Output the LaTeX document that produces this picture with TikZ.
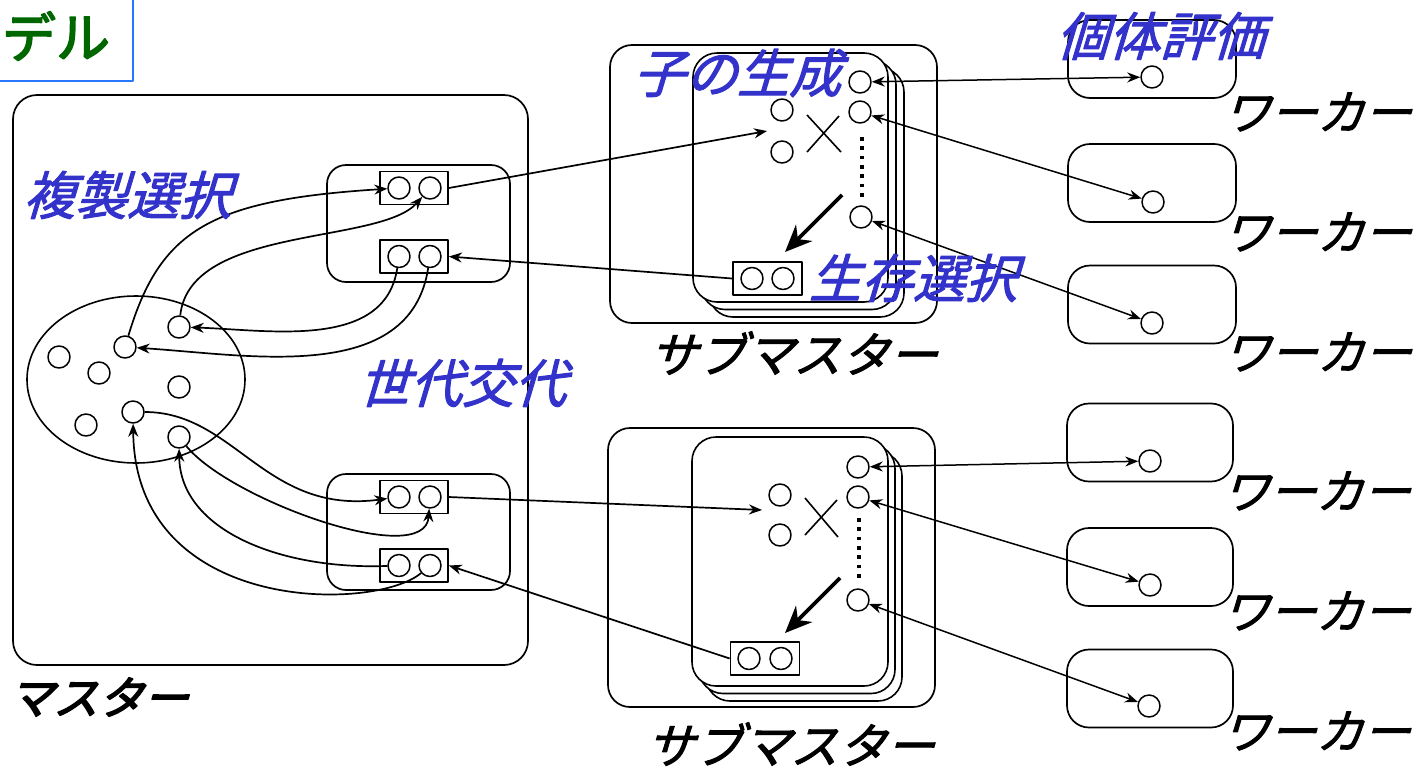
\documentclass[tikz,border=0pt]{standalone}
\usepackage{fontspec}
\newfontfamily\jpsl{Noto Sans CJK JP}[FakeSlant=0.3,FakeBold=2]
\newfontfamily\jpbl{Noto Sans CJK JP}[FakeSlant=0.3,FakeBold=3.5]
\newfontfamily\jpup{Noto Sans CJK JP}[FakeBold=3]
\usetikzlibrary{arrows.meta,shapes.geometric}
\definecolor{lblblue}{RGB}{51,51,204}
\definecolor{ttlgreen}{RGB}{0,102,0}
\definecolor{ttlblue}{RGB}{40,120,255}
\tikzset{
  cont/.style={draw, line width=1.7pt, inner sep=0pt, rounded corners=24pt, fill=white},
  innerbox/.style={draw, line width=1.7pt, inner sep=0pt, rounded corners=19pt},
  card/.style={draw, line width=1.6pt, inner sep=0pt, rounded corners=24pt, fill=white},
  wbox/.style={draw, line width=1.7pt, inner sep=0pt, rounded corners=22pt, minimum height=78pt},
  dot/.style={draw, circle, minimum size=22pt, inner sep=0pt, line width=1.5pt},
  pair/.style={draw, rectangle, minimum width=68pt, minimum height=33pt, inner sep=0pt, line width=1.7pt},
  arr/.style={line width=1.7pt, -{Stealth[length=13pt,width=10pt]}},
  darr/.style={line width=1.5pt, {Stealth[length=13pt,width=10pt]}-{Stealth[length=13pt,width=10pt]}},
  bigarr/.style={line width=3.8pt, -{Stealth[length=27pt,width=23pt]}},
  dotline/.style={line width=3.8pt, dash pattern=on 3.8pt off 5.5pt},
  xline/.style={line width=1.6pt},
  lbl/.style={text=lblblue, font=\jpsl\fontsize{52}{52}\selectfont, inner sep=0pt},
  blk/.style={text=black, font=\jpsl\fontsize{48}{48}\selectfont, inner sep=0pt},
  wlab/.style={text=black, font=\jpsl\fontsize{47}{47}\selectfont, inner sep=0pt},
}
\begin{document}
\begin{tikzpicture}[x=1pt,y=-1pt,line join=round]
\useasboundingbox (0,0) rectangle (1426,769);
\fill[white] (0,0) rectangle (1426,769);

% title
\node[draw=ttlblue, line width=1.6pt, minimum width=145pt, minimum height=93pt, inner sep=0pt] (title) at (60.5,34.5) {};
\node[text=ttlgreen, font=\jpup\fontsize{54}{54}\selectfont, inner sep=0pt] (titletext) at (56,36) {デル};

% master
\node[cont, minimum width=515pt, minimum height=570pt] (master) at (270.5,380) {};
\node[draw, ellipse, minimum width=218pt, minimum height=167pt, line width=1.6pt, inner sep=0pt] (pop) at (136,379.5) {};
\node[dot] (p1) at (125,347) {};
\node[dot] (p2) at (179,327) {};
\node[dot] (p3) at (59,357) {};
\node[dot] (p4) at (99,373) {};
\node[dot] (p5) at (179,387) {};
\node[dot] (p6) at (86,425) {};
\node[dot] (p7) at (133,412) {};
\node[dot] (p8) at (179,437) {};

\node[innerbox, minimum width=183pt, minimum height=117pt] (mtop) at (418.5,223.5) {};
\node[innerbox, minimum width=183pt, minimum height=116pt] (mbot) at (418.5,532) {};
\node[pair] (tp1) at (414,188) {};
\node[pair] (tp2) at (414,256.5) {};
\node[pair] (bp1) at (414,497) {};
\node[pair] (bp2) at (414,565.5) {};
\node[dot] (tc1) at (399,188) {};
\node[dot] (tc2) at (430,188) {};
\node[dot] (tc3) at (399,256.5) {};
\node[dot] (tc4) at (430,256.5) {};
\node[dot] (tc5) at (399,497) {};
\node[dot] (tc6) at (430,497) {};
\node[dot] (tc7) at (399,565.5) {};
\node[dot] (tc8) at (430,565.5) {};

% submaster 1
\node[cont, rounded corners=22pt, minimum width=327pt, minimum height=278pt] (sm1) at (773.5,184) {};
\node[card, minimum width=195pt, minimum height=249pt] (s1c3) at (806.5,192.5) {};
\node[card, minimum width=195pt, minimum height=249pt] (s1c2) at (798.5,185) {};
\node[card, minimum width=195pt, minimum height=249pt] (s1c1) at (790.5,177.5) {};
\node[dot] (s1a) at (782,110) {};
\node[dot] (s1b) at (782,152) {};
\node[dot] (s1r1) at (860,82) {};
\node[dot] (s1r2) at (860,112) {};
\node[dot] (s1r3) at (861,217) {};
\coordinate (s1x1) at (807,115); \coordinate (s1x2) at (841,152);
\coordinate (s1x3) at (807,152); \coordinate (s1x4) at (839,116);
\draw[xline] (s1x1) -- (s1x2);
\draw[xline] (s1x3) -- (s1x4);
\coordinate (s1d1) at (862,137); \coordinate (s1d2) at (862,198);
\draw[dotline] (s1d1) -- (s1d2);
\coordinate (s1g1) at (842,195); \coordinate (s1g2) at (785,252);
\draw[bigarr] (s1g1) -- (s1g2);
\node[pair, minimum width=69pt] (s1p) at (767.5,278.5) {};
\node[dot] (s1pa) at (752,278.5) {};
\node[dot] (s1pb) at (783,278.5) {};
\coordinate (s1in) at (767,131);

% submaster 2
\node[cont, rounded corners=22pt, minimum width=327pt, minimum height=279pt] (sm2) at (771.5,567.5) {};
\node[card, minimum width=196pt, minimum height=249pt] (s2c3) at (804,576.5) {};
\node[card, minimum width=196pt, minimum height=249pt] (s2c2) at (797,569) {};
\node[card, minimum width=196pt, minimum height=249pt] (s2c1) at (790,561.5) {};
\node[dot] (s2a) at (780,495) {};
\node[dot] (s2b) at (780,535) {};
\node[dot] (s2r1) at (858,467) {};
\node[dot] (s2r2) at (858,497) {};
\node[dot] (s2r3) at (858,600) {};
\coordinate (s2x1) at (805,498); \coordinate (s2x2) at (838,537);
\coordinate (s2x3) at (805,535); \coordinate (s2x4) at (837,500);
\draw[xline] (s2x1) -- (s2x2);
\draw[xline] (s2x3) -- (s2x4);
\coordinate (s2d1) at (859,518); \coordinate (s2d2) at (859,579);
\draw[dotline] (s2d1) -- (s2d2);
\coordinate (s2g1) at (840,578); \coordinate (s2g2) at (785,633);
\draw[bigarr] (s2g1) -- (s2g2);
\node[pair, minimum width=69pt] (s2p) at (765,658.5) {};
\node[dot] (s2pa) at (749,658.5) {};
\node[dot] (s2pb) at (781,658.5) {};
\coordinate (s2in) at (762,510);

% workers
\node[wbox, minimum width=168pt] (w1) at (1152,59) {};
\node[wbox, minimum width=168pt] (w2) at (1152,183) {};
\node[wbox, minimum width=168pt] (w3) at (1152,304.5) {};
\node[wbox, minimum width=166pt] (w4) at (1150,442.5) {};
\node[wbox, minimum width=166pt] (w5) at (1150,567) {};
\node[wbox, minimum width=166pt] (w6) at (1150,688.5) {};
\node[dot] (wc1) at (1152,77) {};
\node[dot] (wc2) at (1153,202) {};
\node[dot] (wc3) at (1152,323) {};
\node[dot] (wc4) at (1150,461) {};
\node[dot] (wc5) at (1150,585) {};
\node[dot] (wc6) at (1149,706) {};

% straight connectors
\draw[arr] (tp1.east) -- (s1in);
\draw[arr] (s1p.west) -- (tp2.east);
\draw[arr] (bp1.east) -- (s2in);
\draw[arr] (s2p.west) -- (bp2.east);
\draw[darr] (s1r1) -- (wc1);
\draw[darr] (s1r2) -- (wc2);
\draw[darr] (s1r3) -- (wc3);
\draw[darr] (s2r1) -- (wc4);
\draw[darr] (s2r2) -- (wc5);
\draw[darr] (s2r3) -- (wc6);

% curved connectors in master
\draw[arr] (p1) .. controls (160,230) and (210,200) .. (tc1);
\draw[arr] (p2) .. controls (190,225) and (380,245) .. (tc2);
\draw[arr] (tc3) .. controls (385,350) and (270,330) .. (p2);
\draw[arr] (tc4) .. controls (410,385) and (250,355) .. (p1);
\draw[arr] (p7) .. controls (235,412) and (265,515) .. (tc5);
\draw[arr] (p8) .. controls (230,500) and (425,570) .. (tc6);
\draw[arr] (tc7) .. controls (280,570) and (180,530) .. (p8);
\draw[arr] (tc8) .. controls (375,612) and (135,615) .. (p7);

% labels
\node[lbl] (l1) at (127,195) {複製選択};
\node[lbl] (l2) at (462,383) {世代交代};
\node[lbl] (l3) at (737,73) {子の生成};
\node[lbl] (l4) at (913,278) {生存選択};
\node[lbl] (l5) at (1160,36) {個体評価};
\node[blk] (sl1) at (793,353) {サブマスター};
\node[blk] (sl2) at (790,744) {サブマスター};
\node[text=black, font=\jpbl\fontsize{45}{45}\selectfont, inner sep=0pt] (ml) at (98,697) {マスター};
\node[wlab] (wl1) at (1317,112) {ワーカー};
\node[wlab] (wl2) at (1317,232) {ワーカー};
\node[wlab] (wl3) at (1317,352) {ワーカー};
\node[wlab] (wl4) at (1316,491) {ワーカー};
\node[wlab] (wl5) at (1316,611) {ワーカー};
\node[wlab] (wl6) at (1316,731) {ワーカー};
\end{tikzpicture}
\end{document}
